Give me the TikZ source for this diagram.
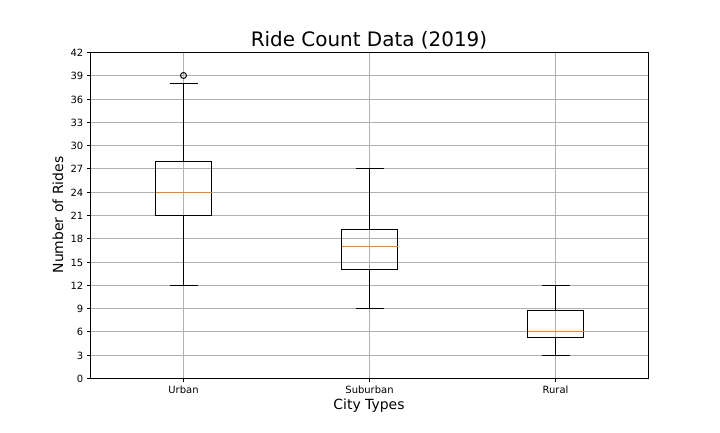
\documentclass[tikz,border=0pt]{standalone}
\usepackage{fontspec}
\setmainfont{DejaVu Sans}
\definecolor{gridgray}{HTML}{B0B0B0}
\definecolor{medorange}{HTML}{FF7F0E}
\begin{document}
\begin{tikzpicture}[x=1bp,y=1bp,
  declare function={Y(\v)=431.5-round(378-\v*7.7619);},
  gridline/.style={draw=gridgray, line width=0.8bp},
  spine/.style={draw=black, line width=0.8bp},
  tickmark/.style={draw=black, line width=0.8bp},
  boxline/.style={draw=black, line width=1bp},
  medline/.style={draw=medorange, line width=1.1bp},
  ticklab/.style={font=\fontsize{10}{12}\selectfont, inner sep=0pt},
  axlab/.style={font=\fontsize{14}{16}\selectfont, inner sep=0pt},
  titlelab/.style={font=\fontsize{20}{24}\selectfont, inner sep=0pt}]
\useasboundingbox (0,0) rectangle (720,432);
\fill[white] (0,0) rectangle (720,432);
% grid
\foreach \v in {3,6,...,39} { \draw[gridline] (90.5,{Y(\v)}) -- (648.5,{Y(\v)}); }
\foreach \p in {183.5,369.5,555.5} { \draw[gridline] (\p,{Y(0)}) -- (\p,{Y(42)}); }
% boxes
\newcommand{\bxplot}[7]{%
  % #1 x, #2 low whisker, #3 q1, #4 median, #5 q3, #6 high whisker, #7 name
  \coordinate (#7lw) at (#1,{Y(#2)});
  \coordinate (#7hw) at (#1,{Y(#6)});
  \coordinate (#7q1) at (#1,{Y(#3)});
  \coordinate (#7q3) at (#1,{Y(#5)});
  \draw[boxline] (#7lw) -- (#7q1);
  \draw[boxline] (#7q3) -- (#7hw);
  \draw[boxline] ([xshift=-14bp]#7lw) -- ([xshift=14bp]#7lw);
  \draw[boxline] ([xshift=-14bp]#7hw) -- ([xshift=14bp]#7hw);
  \draw[boxline] ([xshift=-28bp]#7q1) rectangle ([xshift=28bp]#7q3);
  \draw[medline] (#1-28,{Y(#4)}) -- (#1+28,{Y(#4)});
}
\bxplot{183.5}{12}{21}{24}{28}{38}{urban}
\bxplot{369.5}{9}{14.05}{17}{19.15}{27}{sub}
\bxplot{555.5}{3}{5.3}{6}{8.72}{12}{rural}
\node[draw=black, line width=1bp, circle, minimum size=6bp, inner sep=0pt] (outlier) at (183.5,{Y(39)}) {};
% spines
\draw[spine] (90.5,{Y(0)}) rectangle (648.5,{Y(42)});
% y ticks
\foreach \v in {0,3,...,42} {
  \draw[tickmark] (90.5,{Y(\v)}) -- ++(-3.5,0);
  \node[ticklab, anchor=east] at (83.5,{Y(\v)}) {\v};
}
% x ticks
\foreach \p/\t in {183.5/Urban,369.5/Suburban,555.5/Rural} {
  \draw[tickmark] (\p,{Y(0)}) -- ++(0,-3.5);
  \node[ticklab, anchor=north] at (\p,46.5) {\t};
}
\node[titlelab, anchor=base] (title) at (369,385.5) {Ride Count Data (2019)};
\node[axlab] (xlab) at (369,26) {City Types};
\node[axlab, rotate=90] (ylab) at (58,217) {Number of Rides};
\end{tikzpicture}
\end{document}
